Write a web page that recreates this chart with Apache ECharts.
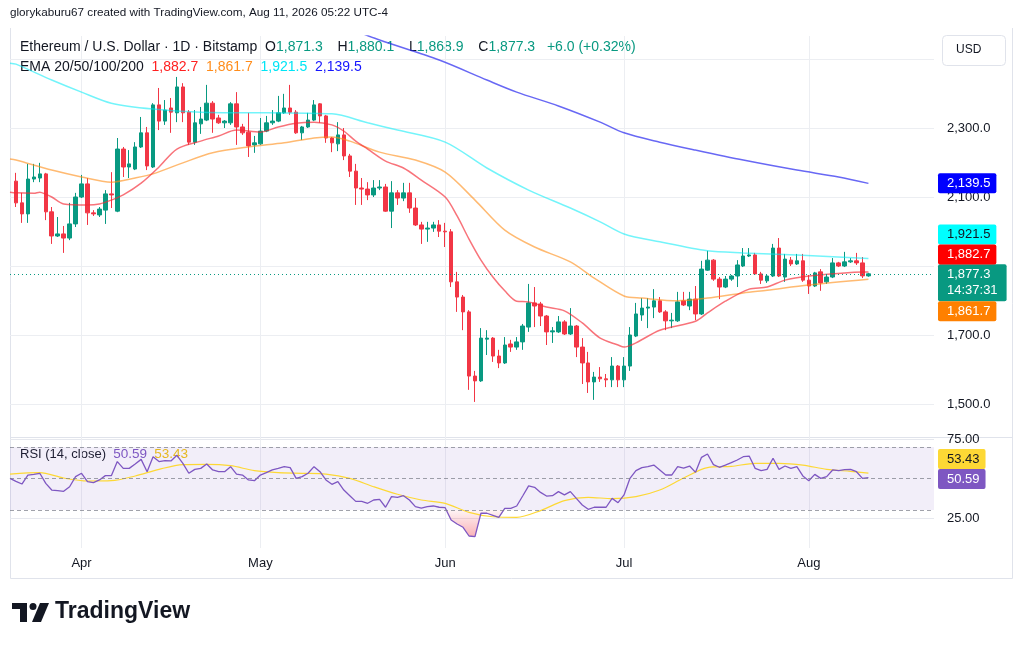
<!DOCTYPE html>
<html>
<head>
<meta charset="utf-8">
<title>ETH / USD 1D</title>
<script src="https://cdn.jsdelivr.net/npm/echarts@6/dist/echarts.min.js"></script>
<style>
html, body { margin: 0; padding: 0; background: #fff; }
#chart { width: 1024px; height: 648px; }
</style>
</head>
<body>
<div id="chart"></div>
<script>
// one category per day, Mar 20 .. Aug 22 2026 (the right part is empty space like on TV)
var dates = [];
(function () {
	var d = new Date(Date.UTC(2026, 2, 20));
	var end = Date.UTC(2026, 7, 22);
	while (d.getTime() <= end) {
		dates.push(d.toISOString().slice(0, 10));
		d.setUTCDate(d.getUTCDate() + 1);
	}
})();

// daily candles from Mar 21 .. Aug 11, [open, high, low, close]
var ohlc = [
	[2146,2170,2071,2083],[2083,2112,2025,2051],[2051,2196,2025,2152],[2152,2196,2143,2158],[2155,2199,2143,2167],
	[2167,2170,2033,2057],[2057,2071,1964,1987],[1987,2042,1984,1993],[1993,2016,1938,1981],[1981,2083,1975,2022],
	[2022,2112,2013,2100],[2100,2164,2097,2138],[2138,2155,2019,2054],[2054,2062,2045,2051],[2048,2071,2042,2065],
	[2062,2120,2022,2109],[2109,2172,2068,2106],[2059,2271,2056,2239],[2239,2245,2158,2187],[2187,2236,2155,2196],
	[2181,2259,2178,2245],[2245,2332,2242,2286],[2286,2303,2178,2190],[2187,2372,2184,2367],[2367,2416,2294,2320],
	[2320,2381,2309,2352],[2358,2387,2286,2346],[2344,2448,2317,2419],[2419,2430,2317,2344],[2346,2352,2251,2259],
	[2259,2352,2251,2315],[2312,2361,2283,2326],[2323,2425,2320,2372],[2372,2378,2286,2326],[2329,2338,2312,2315],
	[2315,2323,2300,2320],[2315,2375,2309,2370],[2370,2404,2251,2303],[2303,2312,2280,2286],[2288,2344,2216,2248],
	[2251,2277,2228,2257],[2254,2329,2251,2291],[2291,2335,2288,2315],[2315,2352,2309,2320],[2320,2393,2317,2344],
	[2344,2399,2341,2358],[2358,2425,2338,2346],[2346,2352,2283,2286],[2286,2306,2265,2303],[2303,2344,2300,2323],
	[2323,2381,2320,2367],[2370,2372,2315,2335],[2335,2338,2257,2271],[2271,2274,2230,2257],[2254,2317,2233,2280],
	[2280,2300,2207,2219],[2219,2225,2158,2175],[2175,2196,2077,2126],[2126,2155,2077,2123],[2123,2143,2091,2106],
	[2106,2149,2100,2126],[2126,2149,2120,2129],[2129,2138,2057,2059],[2059,2146,2010,2112],[2112,2120,2077,2097],
	[2097,2141,2088,2112],[2112,2141,2054,2068],[2068,2097,2016,2019],[2019,2028,1964,2007],[2007,2028,1970,2010],
	[2010,2028,1999,2019],[2019,2033,1984,2001],[2001,2025,1955,1999],[1999,2007,1839,1854],[1854,1883,1767,1810],
	[1810,1816,1714,1767],[1767,1772,1541,1581],[1581,1596,1506,1567],[1567,1720,1564,1691],[1688,1714,1642,1691],
	[1691,1694,1622,1639],[1639,1657,1604,1619],[1619,1694,1616,1671],[1674,1686,1651,1665],[1665,1694,1657,1680],
	[1680,1732,1657,1726],[1723,1848,1709,1793],[1793,1839,1723,1784],[1790,1796,1726,1755],[1755,1758,1671,1709],
	[1709,1723,1677,1712],[1709,1755,1706,1738],[1738,1743,1700,1703],[1703,1778,1700,1726],[1726,1729,1636,1665],
	[1665,1691,1558,1619],[1619,1651,1532,1564],[1564,1593,1512,1578],[1578,1607,1564,1573],[1573,1587,1549,1570],
	[1570,1636,1549,1610],[1610,1613,1549,1570],[1570,1636,1549,1610],[1610,1723,1596,1700],[1697,1793,1694,1761],
	[1758,1807,1741,1778],[1778,1807,1720,1781],[1781,1833,1749,1799],[1799,1810,1764,1767],[1767,1772,1714,1741],
	[1741,1764,1720,1743],[1741,1825,1738,1796],[1799,1825,1784,1787],[1784,1825,1772,1804],[1804,1842,1743,1761],
	[1761,1915,1758,1891],[1888,1944,1886,1917],[1917,1920,1857,1862],[1862,1868,1804,1839],[1839,1871,1836,1862],
	[1862,1874,1857,1871],[1871,1917,1839,1903],[1900,1952,1897,1929],[1929,1952,1926,1932],[1932,1938,1874,1877],
	[1877,1883,1848,1859],[1857,1874,1851,1871],[1871,1964,1868,1952],[1952,1981,1868,1871],[1868,1935,1854,1920],
	[1917,1926,1900,1906],[1906,1935,1903,1915],[1915,1935,1854,1859],[1859,1874,1819,1842],[1842,1883,1839,1880],
	[1883,1891,1828,1851],[1854,1874,1848,1868],[1868,1923,1865,1909],[1909,1912,1897,1900],[1900,1941,1897,1912],
	[1912,1923,1909,1915],[1915,1938,1903,1909],[1909,1926,1865,1871.3],[1871.3,1880.1,1868.9,1877.3]
];

// RSI(14) for Mar 20 .. Aug 11
var rsiVals = [
	50.1,48.2,46.5,52.2,52.6,53.3,46.9,42.7,42.3,41.9,
	44.8,51.2,53.3,48.0,47.4,49.1,51.8,51.8,60.7,56.4,
	56.4,59.2,62.1,54.3,63.8,60.7,61.3,61.1,64.7,59.6,
	53.3,55.8,56.4,59.2,55.4,54.3,54.3,57.5,52.8,52.2,
	49.1,48.6,52.2,53.7,55.4,56.4,57.5,56.9,50.1,51.2,
	53.3,57.5,54.3,49.1,46.3,48.0,42.7,39.1,35.5,35.5,
	34.3,36.4,36.8,31.8,38.5,38.1,39.1,36.4,32.2,31.3,
	32.2,32.6,31.8,31.5,23.7,21.2,19.1,13.6,13.2,28.0,
	28.0,26.7,25.4,31.1,31.1,32.6,38.9,45.3,44.4,41.2,
	38.9,39.1,41.7,39.6,41.7,37.4,33.2,30.5,31.8,31.8,
	31.8,37.4,34.7,39.6,50.1,55.0,56.9,57.5,58.5,55.4,
	52.2,52.2,57.5,56.6,57.9,53.9,63.4,65.5,58.8,57.1,
	58.5,60.0,61.7,63.8,64.2,56.4,55.0,55.8,62.8,55.8,
	57.9,56.4,57.5,51.6,48.6,52.6,50.1,51.2,55.4,55.0,
	55.6,55.8,54.3,50.1,50.59
];

// lines: [day index into dates, value]
var rsiMaPts = [[0,52.8],[5,53.7],[9,50.3],[13,48.4],[17,48.6],[21,51.6],[25,55.8],[29,58.8],[33,59.0],[37,58.1],
	[41,55.0],[45,53.7],[49,53.3],[53,52.8],[57,50.1],[61,44.8],[65,40.0],[69,36.4],[73,34.3],[77,28.6],[81,25.8],
	[85,25.4],[89,29.7],[93,36.0],[97,38.1],[101,37.2],[105,38.5],[109,42.7],[113,50.3],[117,56.9],[121,57.7],
	[125,59.6],[129,59.6],[133,58.5],[137,55.8],[141,54.5],[144,53.43]];

var ema20Pts = [[0,2114],[1,2112],[4,2111],[5,2114],[6,2108],[7,2100],[9,2080],[13,2077],[15,2080],[17,2091],
	[19,2106],[22,2140],[25,2187],[28,2239],[32,2262],[35,2277],[38,2294],[42,2288],[45,2303],[48,2314],[51,2317],
	[54,2309],[56,2291],[58,2262],[60,2239],[63,2204],[66,2184],[69,2149],[73,2100],[75,2045],[77,1978],[79,1917],
	[81,1868],[83,1828],[85,1798],[87,1796],[90,1781],[93,1770],[96,1735],[99,1691],[102,1671],[103,1665],
	[105,1677],[109,1714],[115,1740],[117,1764],[120,1798],[124,1833],[127,1839],[130,1859],[134,1871],
	[140,1880],[143,1882.6],[144,1882.7]];
var ema50Pts = [[0,2210],[1,2207],[7,2178],[12,2158],[17,2143],[21,2155],[24,2167],[29,2199],[34,2228],[40,2245],
	[46,2257],[51,2271],[54,2274],[57,2262],[62,2230],[68,2207],[73,2172],[78,2091],[83,2004],[88,1955],[94,1912],
	[98,1865],[103,1813],[106,1807],[112,1799],[117,1807],[123,1822],[127,1830],[134,1845],[144,1861.7]];
var ema100Pts = [[0,2488],[1,2485],[7,2439],[12,2404],[17,2372],[24,2355],[32,2346],[43,2344],[54,2341],[60,2315],
	[65,2294],[73,2259],[80,2184],[87,2120],[94,2068],[99,2028],[103,1993],[109,1970],[117,1944],[123,1938],
	[132,1932],[144,1921.5]];
var ema200Pts = [[0,2950],[31,2755],[58,2581],[62,2555],[72,2497],[80,2439],[85,2404],[92,2364],[99,2317],
	[103,2286],[109,2259],[115,2236],[123,2207],[132,2178],[139,2158],[144,2139.5]];

var priceLabels = [1500, 1700, 2100, 2300];
var priceGrid = [1500, 1700, 1900, 2100, 2300, 2500];
var rsiLabels = [25, 75];
var monthNames = ['Jan','Feb','Mar','Apr','May','Jun','Jul','Aug','Sep','Oct','Nov','Dec'];

// pane ranges (price pane y=36..437, rsi pane y=437..548)
var priceMin = 1404.35, priceMax = 2566.67;
var rsiMin = 6.0, rsiMax = 76.27;

var GREEN = '#089981', RED = '#f23645';
var FONT = 'Liberation Sans, Arial, sans-serif';

function fmtPrice(v) {
	return v.toLocaleString('en-US', { minimumFractionDigits: 1, maximumFractionDigits: 1 });
}
function monthStart(index, value) {
	return value.slice(8) === '01';
}
function pts(arr) {
	return arr.map(function (p) { return [dates[p[0]], p[1]]; });
}
function lastOf(arr) {
	return arr[arr.length - 1][1];
}
// badge on the right scale, tied to a value through a hidden markLine
function badge(value, bg, fg, dy, text) {
	return {
		silent: true,
		symbol: ['none', 'none'],
		lineStyle: { color: 'rgba(0,0,0,0)' },
		data: [{ yAxis: value }],
		label: {
			show: true, position: 'end', distance: 4, offset: [0, dy],
			formatter: text || fmtPrice(value),
			backgroundColor: bg, color: fg, fontFamily: FONT, fontSize: 13, lineHeight: 14,
			padding: [3, 6, 3, 9], borderRadius: 2
		}
	};
}

var candleData = [['-', '-', '-', '-']].concat(ohlc.map(function (r) {
	return [r[0], r[3], r[2], r[1]];
}));
var lastBar = ohlc[ohlc.length - 1];
var prevClose = ohlc[ohlc.length - 2][3];
var chg = lastBar[3] - prevClose;

var chart = echarts.init(document.getElementById('chart'));

var option = {
	animation: false,
	backgroundColor: '#ffffff',
	textStyle: { fontFamily: FONT },
	grid: [
		{ left: 10, right: 90, top: 36, height: 401 },
		{ left: 10, right: 90, top: 437, height: 111 }
	],
	xAxis: [
		{
			type: 'category', gridIndex: 0, data: dates, boundaryGap: false,
			axisLine: { show: false }, axisTick: { show: false }, axisLabel: { show: false },
			splitLine: { show: true, interval: monthStart, lineStyle: { color: '#eceef2' } }
		},
		{
			type: 'category', gridIndex: 1, data: dates, boundaryGap: false,
			axisLine: { show: false }, axisTick: { show: false },
			axisLabel: {
				show: true, interval: monthStart, margin: 9, color: '#131722', fontSize: 13,
				formatter: function (v) { return monthNames[parseInt(v.slice(5, 7), 10) - 1]; }
			},
			splitLine: { show: true, interval: monthStart, lineStyle: { color: '#eceef2' } }
		}
	],
	yAxis: [
		{
			type: 'value', gridIndex: 0, position: 'right', min: priceMin, max: priceMax, scale: true,
			axisLine: { show: false },
			axisTick: { show: false, customValues: priceGrid },
			axisLabel: { customValues: priceLabels, formatter: fmtPrice, color: '#131722', fontSize: 13, margin: 13 },
			splitLine: { show: true, lineStyle: { color: '#eceef2' } }
		},
		{
			type: 'value', gridIndex: 1, position: 'right', min: rsiMin, max: rsiMax,
			axisLine: { show: false },
			axisTick: { show: false, customValues: rsiLabels },
			axisLabel: { customValues: rsiLabels, formatter: function (v) { return v.toFixed(2); }, color: '#131722', fontSize: 13, margin: 13 },
			splitLine: { show: true, lineStyle: { color: '#e6e8ee' } }
		}
	],
	series: [
		{
			name: 'ETHUSD', type: 'candlestick', xAxisIndex: 0, yAxisIndex: 0, data: candleData,
			barWidth: 4, z: 2,
			itemStyle: { color: GREEN, color0: RED, borderColor: GREEN, borderColor0: RED, borderWidth: 1 },
			markLine: {
				silent: true, symbol: ['none', 'none'],
				lineStyle: { color: GREEN, type: [1, 3], width: 1 },
				data: [{ yAxis: lastBar[3] }],
				label: {
					show: true, position: 'end', distance: 4, offset: [0, 9],
					formatter: fmtPrice(lastBar[3]) + '\n14:37:31',
					backgroundColor: GREEN, color: '#ffffff', fontFamily: FONT, fontSize: 13, lineHeight: 16,
					padding: [3, 9, 2, 9], borderRadius: 2
				}
			}
		},
		{
			name: 'EMA200', type: 'line', xAxisIndex: 0, yAxisIndex: 0, data: pts(ema200Pts),
			showSymbol: false, smooth: 0.3, z: 3,
			lineStyle: { color: 'rgba(40,40,240,0.7)', width: 1.5 },
			markLine: badge(lastOf(ema200Pts), '#0000ff', '#ffffff', 0)
		},
		{
			name: 'EMA100', type: 'line', xAxisIndex: 0, yAxisIndex: 0, data: pts(ema100Pts),
			showSymbol: false, smooth: 0.3, z: 3,
			lineStyle: { color: 'rgba(0,235,245,0.55)', width: 1.5 },
			markLine: badge(lastOf(ema100Pts), '#00ffff', '#131722', -24)
		},
		{
			name: 'EMA50', type: 'line', xAxisIndex: 0, yAxisIndex: 0, data: pts(ema50Pts),
			showSymbol: false, smooth: 0.3, z: 3,
			lineStyle: { color: 'rgba(255,140,20,0.6)', width: 1.5 },
			markLine: badge(lastOf(ema50Pts), '#ff8000', '#ffffff', 32)
		},
		{
			name: 'EMA20', type: 'line', xAxisIndex: 0, yAxisIndex: 0, data: pts(ema20Pts),
			showSymbol: false, smooth: 0.3, z: 3,
			lineStyle: { color: 'rgba(245,40,50,0.65)', width: 1.5 },
			markLine: badge(lastOf(ema20Pts), '#ff0000', '#ffffff', -17.5)
		},
		{
			name: 'oversold', type: 'line', xAxisIndex: 1, yAxisIndex: 1, silent: true,
			data: rsiVals.map(function (v) { return v < 30 ? v : 30; }),
			showSymbol: false, z: 1,
			lineStyle: { width: 0, opacity: 0 },
			areaStyle: {
				origin: 30,
				color: new echarts.graphic.LinearGradient(0, 0, 0, 1, [
					{ offset: 0, color: 'rgba(242,54,69,0.08)' },
					{ offset: 1, color: 'rgba(242,54,69,0.55)' }
				])
			}
		},
		{
			name: 'RSI', type: 'line', xAxisIndex: 1, yAxisIndex: 1, data: rsiVals,
			showSymbol: false, z: 3,
			lineStyle: { color: '#7e57c2', width: 1.3 },
			markArea: {
				silent: true,
				itemStyle: { color: 'rgba(126,87,194,0.1)' },
				data: [[{ yAxis: 30 }, { yAxis: 70 }]]
			},
			markLine: {
				silent: true, symbol: ['none', 'none'],
				lineStyle: { color: 'rgba(120,123,134,0.7)', type: [4, 3], width: 1 },
				label: { show: false },
				data: [{ yAxis: 70 }, { yAxis: 50 }, { yAxis: 30 }]
			}
		},
		{
			name: 'RSI MA', type: 'line', xAxisIndex: 1, yAxisIndex: 1, data: pts(rsiMaPts),
			showSymbol: false, smooth: 0.3, z: 2,
			lineStyle: { color: '#fdd835', width: 1.2 },
			markLine: badge(lastOf(rsiMaPts), '#fdd835', '#131722', -14, lastOf(rsiMaPts).toFixed(2))
		},
		{
			name: 'RSI last', type: 'line', xAxisIndex: 1, yAxisIndex: 1, data: [],
			markLine: badge(rsiVals[rsiVals.length - 1], '#7e57c2', '#ffffff', 1.5, rsiVals[rsiVals.length - 1].toFixed(2))
		}
	],
	graphic: [
		// frame
		{ type: 'polyline', silent: true, shape: { points: [[10.5, 28], [10.5, 578.5], [1012.5, 578.5], [1012.5, 28]] },
			style: { stroke: '#e0e3eb', fill: null, lineWidth: 1 } },
		{ type: 'line', silent: true, shape: { x1: 10, y1: 437.5, x2: 1012, y2: 437.5 },
			style: { stroke: '#e0e3eb', lineWidth: 1 } },
		{ type: 'text', left: 10, top: 7, style: {
			text: 'glorykaburu67 created with TradingView.com, Aug 11, 2026 05:22 UTC-4',
			fill: '#131722', fontSize: 11.7, fontFamily: FONT } },
		{ type: 'text', left: 20, top: 40, style: {
			text: '{t|Ethereum / U.S. Dollar · 1D · Bitstamp}  {k|O}{v|' + fmtPrice(lastBar[0]) + '}  {k2|H}{v|' + fmtPrice(lastBar[1]) +
				'}  {k2|L}{v|' + fmtPrice(lastBar[2]) + '}  {k2|C}{v|' + fmtPrice(lastBar[3]) + '}  {g|' +
				(chg >= 0 ? '+' : '') + chg.toFixed(1) + ' (' + (chg >= 0 ? '+' : '') + (chg / prevClose * 100).toFixed(2) + '%)}',
			fontSize: 14, fontFamily: FONT,
			rich: {
				t: { fill: '#131722', fontSize: 14 },
				k: { fill: '#131722', fontSize: 14 },
				k2: { fill: '#131722', fontSize: 14, padding: [0, 0, 0, 7] },
				v: { fill: GREEN, fontSize: 14 },
				g: { fill: GREEN, fontSize: 14, padding: [0, 0, 0, 4] }
			} } },
		{ type: 'text', left: 20, top: 60, style: {
			text: '{k|EMA 20/50/100/200}  {r|' + fmtPrice(lastOf(ema20Pts)) + '}  {o|' + fmtPrice(lastOf(ema50Pts)) +
				'}  {c|' + fmtPrice(lastOf(ema100Pts)) + '}  {b|' + fmtPrice(lastOf(ema200Pts)) + '}',
			fontSize: 14, fontFamily: FONT,
			rich: { k: { fill: '#131722', fontSize: 14 }, r: { fill: '#ff2020', fontSize: 14 }, o: { fill: '#ff8c1a', fontSize: 14 },
				c: { fill: '#00e5f5', fontSize: 14 }, b: { fill: '#1515ff', fontSize: 14 } } } },
		{ type: 'text', left: 20, top: 447, style: {
			text: '{k|RSI (14, close)}  {p|' + rsiVals[rsiVals.length - 1].toFixed(2) + '}  {y|' + lastOf(rsiMaPts).toFixed(2) + '}',
			fontSize: 13, fontFamily: FONT,
			rich: { k: { fill: '#131722', fontSize: 13 }, p: { fill: '#7e57c2', fontSize: 13.5 }, y: { fill: '#f2c40f', fontSize: 13.5 } } } },
		// currency box
		{ type: 'rect', silent: true, shape: { x: 942.5, y: 35.5, width: 63, height: 30, r: 4 },
			style: { fill: '#ffffff', stroke: '#e0e3eb', lineWidth: 1 } },
		{ type: 'text', left: 956, top: 44, style: { text: 'USD', fill: '#131722', fontSize: 12, fontFamily: FONT } },
		// TradingView logo
		{ type: 'group', left: 12, top: 603, children: [
			{ type: 'rect', shape: { x: 0, y: 0, width: 15, height: 6 }, style: { fill: '#131722' } },
			{ type: 'rect', shape: { x: 8, y: 0, width: 7, height: 19 }, style: { fill: '#131722' } },
			{ type: 'circle', shape: { cx: 21, cy: 3.5, r: 3.5 }, style: { fill: '#131722' } },
			{ type: 'polygon', shape: { points: [[28, 0], [37, 0], [29, 19], [20, 19]] }, style: { fill: '#131722' } }
		] },
		{ type: 'text', left: 55, top: 600, style: { text: 'TradingView', fill: '#131722', fontSize: 23, fontWeight: 'bold', fontFamily: FONT } }
	]
};

chart.setOption(option);
</script>
</body>
</html>
